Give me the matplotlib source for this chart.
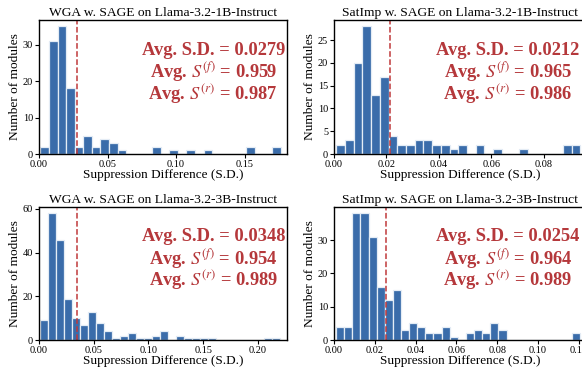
import numpy as np
import matplotlib
matplotlib.use("Agg")
import matplotlib.pyplot as plt

plt.rcParams['font.family'] = ['Liberation Serif', 'DejaVu Serif']
plt.rcParams['mathtext.fontset'] = 'stix'

# ---------------- data ----------------
titles = [
    "WGA w. SAGE on Llama-3.2-1B-Instruct",
    "SatImp w. SAGE on Llama-3.2-1B-Instruct",
    "WGA w. SAGE on Llama-3.2-3B-Instruct",
    "SatImp w. SAGE on Llama-3.2-3B-Instruct",
]

counts_wga_1b = [2, 31, 35, 18, 2, 5, 2, 4, 3, 1, 0, 0, 0, 2, 0, 1, 0, 1, 0, 1,
                 0, 0, 0, 0, 2, 0, 0, 2]
range_wga_1b = (0.001, 0.1765)

counts_sat_1b = [2, 3, 20, 28, 13, 17, 4, 2, 2, 3, 3, 2, 2, 1, 2, 0, 2, 0, 1, 0,
                 0, 1, 0, 0, 0, 0, 2, 2]
range_sat_1b = (0.0009, 0.094)

counts_wga_3b = [9, 58, 46, 19, 10, 7, 13, 8, 4, 1, 2, 3, 1, 1, 2, 4, 0, 2, 1, 1,
                 1, 1, 0, 0, 0, 0, 0, 0, 1, 1]
range_wga_3b = (0.001, 0.220)

counts_sat_3b = [4, 4, 38, 38, 31, 16, 12, 15, 3, 5, 4, 2, 2, 4, 1, 0, 2, 3, 2, 5,
                 3, 0, 0, 0, 0, 0, 0, 0, 0, 2]
range_sat_3b = (0.001, 0.1204)

avg_sd = [0.0279, 0.0212, 0.0348, 0.0254]
avg_sf = [0.959, 0.965, 0.954, 0.964]
avg_sr = [0.987, 0.986, 0.989, 0.989]

xlims = [0.181, 0.0962, 0.2265, 0.1235]
xticks = [[0.00, 0.05, 0.10, 0.15],
          [0.00, 0.02, 0.04, 0.06, 0.08],
          [0.00, 0.05, 0.10, 0.15, 0.20],
          [0.00, 0.02, 0.04, 0.06, 0.08, 0.10, 0.12]]
yticks = [[0, 10, 20, 30],
          [0, 5, 10, 15, 20, 25],
          [0, 20, 40, 60],
          [0, 10, 20, 30]]

all_counts = [counts_wga_1b, counts_sat_1b, counts_wga_3b, counts_sat_3b]
all_ranges = [range_wga_1b, range_sat_1b, range_wga_3b, range_sat_3b]

# ---------------- figure ----------------
W, H = 582, 370
fig = plt.figure(figsize=(W / 100, H / 100), dpi=100)

# axes boxes in pixels: (left, top, width, height)
boxes = [(39, 20, 248, 134), (334, 20, 252, 134),
         (39, 207, 248, 133), (334, 207, 252, 133)]

bar_color = "#3A6CAA"
red = "#B5383B"

for i in range(4):
    l, t, w, h = boxes[i]
    ax = fig.add_axes([l / W, 1 - (t + h) / H, w / W, h / H])
    counts = np.array(all_counts[i], dtype=float)
    lo, hi = all_ranges[i]
    edges = np.linspace(lo, hi, len(counts) + 1)
    centers = 0.5 * (edges[:-1] + edges[1:])
    ax.hist(centers, bins=edges, weights=counts, color=bar_color,
            edgecolor="#E4ECF5", linewidth=0.9)
    ax.axvline(avg_sd[i], color="#C0393B", linestyle="--", linewidth=1.1)
    ax.set_xlim(0, xlims[i])
    ax.set_ylim(0, max(counts) * 1.05)
    ax.set_xticks(xticks[i])
    ax.set_xticklabels([f"{v:.2f}" for v in xticks[i]])
    ax.set_yticks(yticks[i])
    ax.tick_params(axis='both', labelsize=7.4, length=3, width=0.8,
                   direction='out', pad=1.2)
    for s in ax.spines.values():
        s.set_linewidth(1.0)
        s.set_color("black")
    ax.set_title(titles[i], fontsize=9.7, pad=3)
    ax.set_xlabel("Suppression Difference (S.D.)", fontsize=9.5, labelpad=0)
    ax.set_ylabel("Number of modules", fontsize=9.6, labelpad=1.5)
    lines = [f"Avg. S.D. = {avg_sd[i]:.4f}",
             f"Avg. $S^{{(f)}}$ = {avg_sf[i]:.3f}",
             f"Avg. $S^{{(r)}}$ = {avg_sr[i]:.3f}"]
    xc = 0.703 if i % 2 == 0 else 0.69
    for yb, s in zip([0.742, 0.568, 0.407], lines):
        ax.text(xc, yb, s, transform=ax.transAxes, ha='center',
                va='baseline', fontsize=13.3, fontweight='bold', color=red)

fig.savefig("out.png", dpi=100)
